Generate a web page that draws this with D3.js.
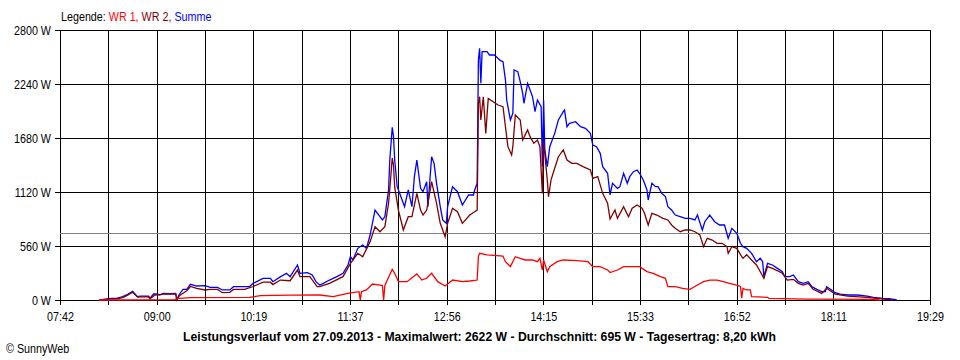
<!DOCTYPE html>
<html><head><meta charset="utf-8">
<script src="https://cdn.jsdelivr.net/npm/d3@7/dist/d3.min.js"></script>
<style>
html,body{margin:0;padding:0;background:#fff;}
svg{display:block;}
text{font-family:"Liberation Sans",Arial,sans-serif;}
</style></head>
<body>
<svg id="chart" width="960" height="360"></svg>
<script>
// ---- data ----
const xTickLabels = ["07:42","09:00","10:19","11:37","12:56","14:15","15:33","16:52","18:11","19:29"];
const yTicks = [0,560,1120,1680,2240,2800];
const averageW = 695;
const legendLabel = "Legende: ";
const seriesNames = ["WR 1", "WR 2", "Summe"];
const title = "Leistungsverlauf vom 27.09.2013 - Maximalwert: 2622 W - Durchschnitt: 695 W - Tagesertrag: 8,20 kWh";
const credit = "\u00A9 SunnyWeb";

const summe = [["08:14",0],["08:19",10],["08:23",17],["08:28",17],["08:33",35],["08:37",60],["08:41",90],["08:45",35],["08:47",41],["08:54",41],["08:55",17],["08:58",62],["09:01",62],["09:03",52],["09:06",69],["09:11",65],["09:16",69],["09:17",5],["09:19",60],["09:22",111],["09:25",111],["09:28",163],["09:33",145],["09:40",150],["09:44",131],["09:50",131],["09:54",104],["10:00",104],["10:03",138],["10:12",138],["10:16",140],["10:19",173],["10:27",225],["10:33",225],["10:35",190],["10:41",240],["10:46",277],["10:49",242],["10:55",363],["10:57",277],["11:03",283],["11:07",259],["11:10",190],["11:13",155],["11:16",173],["11:21",207],["11:27",242],["11:32",277],["11:36",363],["11:38",449],["11:40",415],["11:44",536],["11:48",570],["11:51",536],["11:54",674],["11:58",933],["12:00",899],["12:04",830],["12:06",864],["12:09",1141],["12:10",1452],["12:12",1790],["12:13",1700],["12:14",1452],["12:16",1175],["12:18",1106],["12:22",968],["12:25",1141],["12:28",968],["12:30",1279],["12:32",1452],["12:35",1158],["12:37",1123],["12:40",1227],["12:41",968],["12:44",1486],["12:46",1417],["12:48",1210],["12:51",968],["12:53",830],["12:56",795],["12:57",968],["13:01",1175],["13:05",1123],["13:09",985],["13:14",1089],["13:18",1089],["13:19",1141],["13:21",1210],["13:22",2489],["13:23",2610],["13:24",2247],["13:25",2575],["13:29",2575],["13:31",2541],["13:35",2541],["13:40",2482],["13:42",2472],["13:44",2281],["13:45",2074],["13:48",1867],["13:50",1936],["13:51",2385],["13:54",2368],["13:56",2264],["13:58",2143],["13:59",2040],["14:02",2247],["14:04",2178],["14:06",2108],["14:08",1953],["14:10",2074],["14:13",2005],["14:14",1383],["14:15",2074],["14:16",1556],["14:18",1383],["14:20",1590],["14:24",1728],["14:27",1867],["14:31",1953],["14:32",1970],["14:34",1797],["14:36",1832],["14:41",1849],["14:45",1797],["14:49",1780],["14:53",1728],["14:55",1607],["14:58",1590],["15:01",1521],["15:03",1383],["15:07",1314],["15:09",1090],["15:11",1210],["15:15",1158],["15:17",1175],["15:20",1314],["15:23",1210],["15:25",1279],["15:28",1331],["15:31",1348],["15:33",1314],["15:36",1244],["15:39",1141],["15:40",1037],["15:43",1210],["15:46",1175],["15:48",1175],["15:51",1106],["15:54",1072],["15:56",968],["15:59",933],["16:02",881],["16:06",864],["16:10",847],["16:14",847],["16:18",830],["16:20",881],["16:24",726],["16:26",812],["16:30",881],["16:34",812],["16:38",778],["16:42",778],["16:45",640],["16:48",743],["16:52",691],["16:55",588],["16:57",553],["17:00",536],["17:04",484],["17:08",397],["17:11",432],["17:13",397],["17:14",242],["17:17",380],["17:21",363],["17:25",328],["17:29",294],["17:31",242],["17:35",242],["17:38",259],["17:42",190],["17:46",173],["17:50",190],["17:53",138],["17:57",111],["18:01",86],["18:04",86],["18:05",138],["18:09",104],["18:12",76],["18:16",62],["18:22",52],["18:30",52],["18:38",41],["18:43",28],["18:51",17],["18:56",14],["19:02",0]];

const wr2 = [["08:14",0],["08:23",10],["08:28",12],["08:33",25],["08:37",50],["08:41",80],["08:45",30],["08:54",35],["08:55",12],["08:59",50],["09:06",60],["09:16",62],["09:17",0],["09:19",45],["09:25",95],["09:28",140],["09:33",120],["09:40",104],["09:44",110],["09:50",110],["09:54",76],["10:00",80],["10:03",110],["10:12",110],["10:19",140],["10:27",185],["10:33",185],["10:35",160],["10:41",207],["10:49",200],["10:55",311],["10:57",242],["11:05",242],["11:11",138],["11:13",138],["11:21",173],["11:32",242],["11:38",380],["11:44",484],["11:48",449],["11:54",605],["11:58",760],["12:02",708],["12:06",760],["12:09",1003],["12:10",1150],["12:12",1473],["12:13",1400],["12:14",1170],["12:17",933],["12:21",726],["12:25",864],["12:28",864],["12:32",1106],["12:35",933],["12:37",881],["12:40",933],["12:44",1227],["12:48",1003],["12:51",795],["12:55",656],["12:57",795],["13:01",951],["13:05",916],["13:09",795],["13:15",881],["13:19",916],["13:21",933],["13:22",2040],["13:23",2108],["13:24",1867],["13:26",2108],["13:28",1728],["13:30",2091],["13:34",2056],["13:38",2022],["13:42",2005],["13:44",1797],["13:46",1590],["13:49",1504],["13:50",1590],["13:52",1918],["13:56",1867],["13:58",1659],["14:02",1763],["14:04",1694],["14:07",1625],["14:10",1659],["14:12",1590],["14:14",1106],["14:15",1642],["14:18",1244],["14:19",1072],["14:21",1244],["14:24",1366],["14:27",1486],["14:31",1556],["14:34",1452],["14:38",1417],["14:42",1417],["14:47",1383],["14:53",1348],["14:55",1262],["14:59",1279],["15:03",1106],["15:07",1003],["15:09",840],["15:13",933],["15:15",847],["15:20",968],["15:24",864],["15:27",951],["15:31",985],["15:35",951],["15:37",899],["15:40",778],["15:43",899],["15:47",881],["15:52",847],["15:56",830],["15:59",778],["16:02",743],["16:06",708],["16:10",726],["16:14",726],["16:18",708],["16:22",674],["16:25",553],["16:28",640],["16:32",622],["16:36",588],["16:40",588],["16:44",553],["16:45",484],["16:48",553],["16:52",536],["16:55",470],["16:57",432],["17:00",470],["17:04",415],["17:08",363],["17:14",225],["17:17",346],["17:21",328],["17:29",277],["17:33",207],["17:38",214],["17:42",173],["17:46",155],["17:50",173],["17:54",111],["18:01",69],["18:05",121],["18:12",62],["18:22",41],["18:38",28],["18:51",10],["18:59",0]];

const wr1 = [["08:14",0],["09:15",3],["09:17",14],["09:28",24],["10:16",28],["10:25",45],["10:49",50],["11:13",52],["11:24",35],["11:36",69],["11:45",86],["11:46",0],["11:47",86],["11:51",104],["11:56",166],["12:02",155],["12:04",150],["12:05",0],["12:06",150],["12:08",207],["12:12",318],["12:14",277],["12:17",190],["12:24",190],["12:32",270],["12:36",207],["12:40",225],["12:44",277],["12:49",190],["12:55",145],["13:01",207],["13:09",190],["13:15",197],["13:21",207],["13:22",450],["13:23",484],["13:29",467],["13:42",456],["13:44",397],["13:48",346],["13:52",449],["13:56",432],["14:00",415],["14:06",415],["14:10",397],["14:12",432],["14:14",311],["14:15",415],["14:18",294],["14:20",346],["14:26",397],["14:31",415],["14:42",408],["14:51",397],["14:55",346],["15:01",346],["15:07",311],["15:09",285],["15:15",311],["15:20",346],["15:28",346],["15:33",346],["15:39",294],["15:44",277],["15:50",242],["15:54",225],["15:56",138],["16:02",138],["16:08",121],["16:14",111],["16:20",155],["16:25",190],["16:30",207],["16:36",207],["16:41",190],["16:46",173],["16:52",155],["16:55",140],["16:56",20],["16:57",121],["17:00",104],["17:03",104],["17:04",35],["17:17",28],["17:18",17],["17:49",10],["18:40",7],["18:48",0]];

// ---- drawing ----
const toMin = s => { const [h,m] = s.split(":").map(Number); return h*60+m; };
const tStart = toMin(xTickLabels[0]), tEnd = toMin(xTickLabels[xTickLabels.length-1]);

const L = 60, R = 930, T = 30, B = 300;
const FS = 12.5, SX = 0.86; // condensed UI font look
const svg = d3.select("#chart");
const x = d3.scaleLinear().domain([tStart, tEnd]).range([L, R]);
const y = d3.scaleLinear().domain([0, 2800]).range([B, T]);

const nMajor = xTickLabels.length - 1;
const majorVals = d3.range(nMajor + 1).map(i => tStart + i*(tEnd - tStart)/nMajor);
const gridVals = d3.range(nMajor*2 + 1).map(i => tStart + i*(tEnd - tStart)/(nMajor*2));

const g = svg.append("g").attr("shape-rendering","crispEdges");
g.selectAll(".vg").data(gridVals).enter().append("line")
  .attr("x1", d => Math.round(x(d))+0.5).attr("x2", d => Math.round(x(d))+0.5)
  .attr("y1", T).attr("y2", B+5).attr("stroke","#000");
g.selectAll(".hg").data(yTicks).enter().append("line")
  .attr("x1", L-5).attr("x2", R+1)
  .attr("y1", d => Math.round(y(d))+0.5).attr("y2", d => Math.round(y(d))+0.5)
  .attr("stroke","#000");
g.append("line").attr("x1", L).attr("x2", R)
  .attr("y1", Math.round(y(averageW))+0.5).attr("y2", Math.round(y(averageW))+0.5)
  .attr("stroke","#808080");

function label(px, py, anchor) {
  return svg.append("text").attr("transform", `translate(${px},${py}) scale(${SX},1)`)
    .attr("text-anchor", anchor).attr("font-size", FS);
}
yTicks.forEach(d => label(51, y(d)+4.5, "end").text(d + " W"));
majorVals.forEach((d,i) => label(x(d)+0.5, 321, "middle").text(xTickLabels[i]));

// series
const line = d3.line().x(d => x(toMin(d[0]))).y(d => y(d[1]));
const series = [[summe,"#0000ff"],[wr2,"#800000"],[wr1,"#ff0000"]];
series.forEach(([data,col]) => {
  svg.append("path").datum(data).attr("d", line)
    .attr("fill","none").attr("stroke", col).attr("stroke-width", 1.3);
});

// legend
const lg = label(61, 21, "start");
lg.append("tspan").attr("fill","#000").text(legendLabel);
const legCols = ["#ff0000","#800000","#0000ff"];
seriesNames.forEach((n,i) => {
  lg.append("tspan").attr("fill", legCols[i]).text(n + (i < seriesNames.length-1 ? ", " : ""));
});

// title
svg.append("text").attr("x", 479.5).attr("y", 341).attr("text-anchor","middle")
  .attr("font-size", 13).attr("font-weight","bold")
  .attr("textLength", 593).attr("lengthAdjust","spacingAndGlyphs").text(title);
// credit
label(6, 353, "start").text(credit);
</script>
</body></html>
